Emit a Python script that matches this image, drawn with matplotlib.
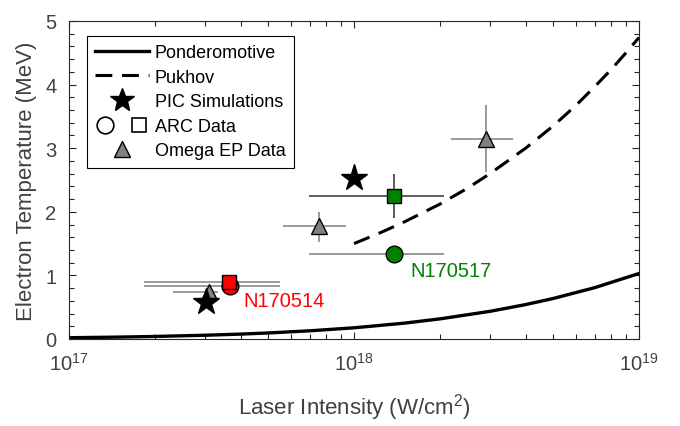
import matplotlib
matplotlib.use("Agg")
import matplotlib.pyplot as plt
from matplotlib.lines import Line2D
from matplotlib.legend_handler import HandlerTuple
from matplotlib.ticker import LogLocator, MultipleLocator

plt.rcParams['font.family'] = ['Liberation Sans', 'DejaVu Sans']
plt.rcParams['mathtext.fontset'] = 'custom'
plt.rcParams['mathtext.rm'] = 'Liberation Sans'
plt.rcParams['mathtext.it'] = 'Liberation Sans:italic'

# Theory curves
pond_I = [1e17, 1.5e17, 2e17, 3e17, 4e17, 5e17, 7e17, 1e18, 1.5e18, 2e18, 3e18, 4e18, 5e18, 7e18, 1e19]
pond_T = [0.020, 0.030, 0.040, 0.059, 0.077, 0.095, 0.129, 0.176, 0.249, 0.316, 0.435, 0.541, 0.637, 0.808, 1.030]
puk_I = [1e18, 1.25e18, 1.5e18, 2e18, 2.5e18, 3e18, 4e18, 5e18, 6e18, 7e18, 8e18, 9e18, 1e19]
puk_T = [1.50, 1.68, 1.84, 2.12, 2.37, 2.60, 3.00, 3.35, 3.67, 3.97, 4.24, 4.50, 4.74]

# PIC simulations
pic_I = [3.03e17, 1.0e18]
pic_T = [0.58, 2.53]

# ARC data: circles and squares
arc_circ_I = [3.67e17, 1.38e18]
arc_circ_T = [0.84, 1.34]
arc_circ_Ilo = [1.83e17, 6.95e17]
arc_circ_Ihi = [5.5e17, 2.07e18]
arc_circ_colors = ['#ff0000', '#008000']

arc_sq_I = [3.64e17, 1.38e18]
arc_sq_T = [0.90, 2.25]
arc_sq_Ilo = [1.83e17, 6.95e17]
arc_sq_Ihi = [5.5e17, 2.07e18]
arc_sq_Tlo = [0.90, 1.90]
arc_sq_Thi = [0.90, 2.59]
arc_sq_colors = ['#ff0000', '#008000']

# Omega EP data
ep_I = [3.1e17, 7.54e17, 2.9e18]
ep_T = [0.74, 1.78, 3.14]
ep_Ilo = [2.32e17, 5.64e17, 2.19e18]
ep_Ihi = [3.33e17, 9.38e17, 3.61e18]
ep_Tlo = [0.74, 1.53, 2.63]
ep_Thi = [0.74, 2.00, 3.68]

shot_labels = ['N170514', 'N170517']
shot_label_pos = [(4.1e17, 0.60), (1.58e18, 1.07)]
shot_label_colors = ['#ff0000', '#008000']

fig = plt.figure(figsize=(6.8, 4.27), dpi=100)
ax = fig.add_axes([69/680, 1-340/427, 570/680, 318/427])

ebc = '#7f7f7f'
ax.plot(pond_I, pond_T, '-', color='k', lw=2.4, zorder=2)
ax.plot(puk_I, puk_T, color='k', lw=2.2, linestyle=(0, (5.5, 3.2)), zorder=2)

# error bars
for i in range(len(arc_circ_I)):
    ax.errorbar(arc_circ_I[i], arc_circ_T[i],
                xerr=[[arc_circ_I[i]-arc_circ_Ilo[i]], [arc_circ_Ihi[i]-arc_circ_I[i]]],
                fmt='none', ecolor=ebc, elinewidth=1.1, capsize=0, zorder=3)
for i in range(len(arc_sq_I)):
    ax.errorbar(arc_sq_I[i], arc_sq_T[i],
                xerr=[[arc_sq_I[i]-arc_sq_Ilo[i]], [arc_sq_Ihi[i]-arc_sq_I[i]]],
                yerr=[[arc_sq_T[i]-arc_sq_Tlo[i]], [arc_sq_Thi[i]-arc_sq_T[i]]],
                fmt='none', ecolor=ebc if i == 0 else '#303030', elinewidth=1.1, capsize=0, zorder=3)
for i in range(len(ep_I)):
    ax.errorbar(ep_I[i], ep_T[i],
                xerr=[[ep_I[i]-ep_Ilo[i]], [ep_Ihi[i]-ep_I[i]]],
                yerr=[[ep_T[i]-ep_Tlo[i]], [ep_Thi[i]-ep_T[i]]],
                fmt='none', ecolor=ebc, elinewidth=1.1, capsize=0, zorder=3)

# markers
for i in range(len(arc_circ_I)):
    ax.plot(arc_circ_I[i], arc_circ_T[i], 'o', ms=12, mfc=arc_circ_colors[i], mec='k', mew=1.0, zorder=4)
for i in range(len(arc_sq_I)):
    ax.plot(arc_sq_I[i], arc_sq_T[i], 's', ms=10.5, mfc=arc_sq_colors[i], mec='k', mew=1.0, zorder=5)
ax.plot(ep_I, ep_T, '^', ms=11, mfc='#808080', mec='k', mew=1.0, ls='none', zorder=4)
ax.plot(pic_I, pic_T, '*', ms=20, mfc='k', mec='k', ls='none', zorder=6)

for lab, (x, y), c in zip(shot_labels, shot_label_pos, shot_label_colors):
    ax.text(x, y, lab, color=c, fontsize=14.5, ha='left', va='center')

ax.set_xscale('log')
ax.set_xlim(1e17, 1e19)
ax.set_ylim(0, 5)
ax.yaxis.set_major_locator(MultipleLocator(1))
ax.yaxis.set_minor_locator(MultipleLocator(0.2))
ax.xaxis.set_minor_locator(LogLocator(base=10, subs=range(2, 10)))

tc = '#404040'
ax.tick_params(which='both', direction='in', top=True, right=True, colors='#262626',
               labelcolor=tc, labelsize=14.5, width=0.8)
ax.tick_params(which='major', length=5)
ax.tick_params(which='minor', length=3.5)
ax.tick_params(axis='x', which='major', pad=9)
ax.tick_params(axis='y', which='major', pad=9)
for s in ax.spines.values():
    s.set_linewidth(0.8)
    s.set_color('#262626')

ax.set_xlabel('Laser Intensity (W/cm$^2$)', fontsize=16, color=tc, labelpad=13)
ax.set_ylabel('Electron Temperature (MeV)', fontsize=16, color=tc, labelpad=6)

h_pond = Line2D([], [], color='k', lw=2.4)
h_puk = Line2D([], [], color='k', lw=2.2, linestyle=(0, (5.5, 3.2)))
h_pic = Line2D([], [], marker='*', color='k', ms=18, ls='none')
h_c = Line2D([], [], marker='o', mfc='white', mec='k', mew=1.2, ms=12, ls='none')
h_s = Line2D([], [], marker='s', mfc='white', mec='k', mew=1.2, ms=10.5, ls='none')
h_ep = Line2D([], [], marker='^', mfc='#808080', mec='k', ms=11, ls='none')
leg = ax.legend([h_pond, h_puk, h_pic, (h_c, h_s), h_ep],
                ['Ponderomotive', 'Pukhov', 'PIC Simulations', 'ARC Data', 'Omega EP Data'],
                handler_map={tuple: HandlerTuple(ndivide=None, pad=0.8)},
                loc='upper left', bbox_to_anchor=(18/570, 303/318), borderaxespad=0,
                fontsize=13, frameon=True, fancybox=False, framealpha=1,
                edgecolor='k', handlelength=3.0, handletextpad=0.3,
                labelspacing=0.42, borderpad=0.45)
leg.get_frame().set_linewidth(0.8)
for t in leg.get_texts():
    t.set_color('k')

fig.savefig('out.png', dpi=100)
